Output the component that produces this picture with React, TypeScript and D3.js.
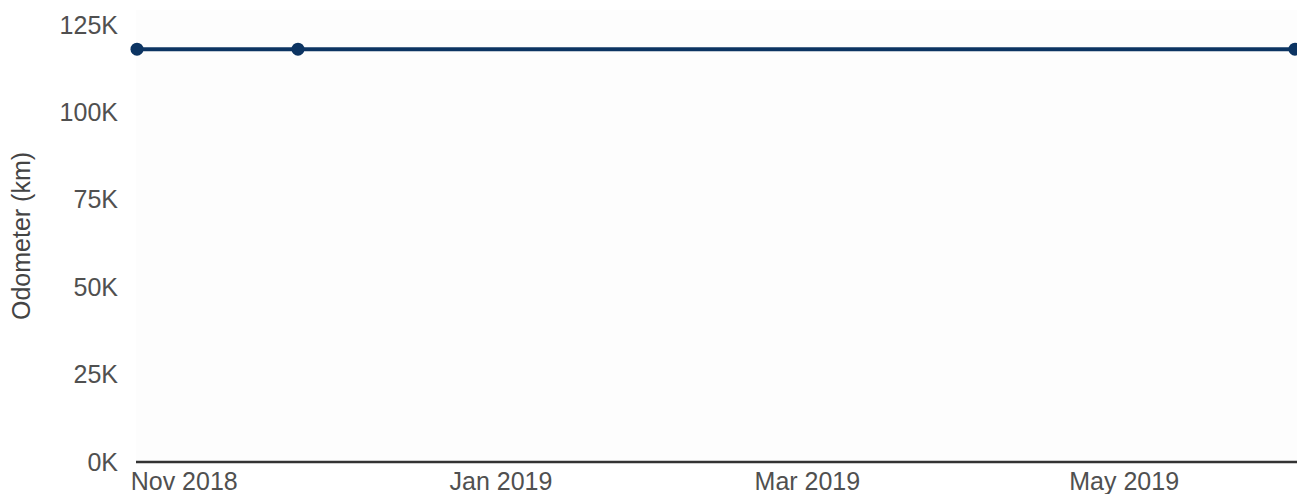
import * as React from 'react';
import { useEffect, useRef } from 'react';
import { scaleTime, scaleLinear, select, line, axisLeft, axisBottom } from 'd3';

const readingDates = ['2018-10-23', '2018-11-23', '2019-06-03'];
const odometerKm = [118100, 118100, 118100];
const yTickValues = [0, 25000, 50000, 75000, 100000, 125000];
const xTickDates = ['2018-11-01', '2019-01-01', '2019-03-01', '2019-05-01'];
const xTickLabels = ['Nov 2018', 'Jan 2019', 'Mar 2019', 'May 2019'];
const yMax = 129300;

const W = 1297;
const H = 494;
const margin = { top: 10, right: 2, bottom: 32, left: 137 };
const font = 'Liberation Sans, Arial, sans-serif';

const parse = (s: string) => {
    const [y, m, d] = s.split('-').map(Number);
    return new Date(y, m - 1, d);
};

export default function App() {
    const ref = useRef<SVGSVGElement>(null);

    useEffect(() => {
        const svg = select(ref.current);
        svg.selectAll('*').remove();

        const data = readingDates.map((d, i) => ({ date: parse(d), km: odometerKm[i] }));
        const x = scaleTime()
            .domain([data[0].date, data[data.length - 1].date])
            .range([margin.left, W - margin.right]);
        const y = scaleLinear().domain([0, yMax]).range([H - margin.bottom, margin.top]);

        svg.append('rect')
            .attr('x', margin.left - 1)
            .attr('y', margin.top)
            .attr('width', W - margin.left + 1)
            .attr('height', H - margin.bottom - margin.top)
            .attr('fill', '#fdfdfd');

        const yAxis = svg.append('g')
            .attr('transform', `translate(${margin.left - 1},0)`)
            .call(axisLeft(y).tickValues(yTickValues).tickSize(0).tickPadding(18)
                .tickFormat((v: any) => `${v / 1000}K`));
        yAxis.select('.domain').remove();
        yAxis.selectAll('text')
            .attr('font-family', font)
            .attr('font-size', 25)
            .attr('fill', '#505050');

        const tickDates = xTickDates.map(parse);
        const xAxis = svg.append('g')
            .attr('transform', `translate(0,${H - margin.bottom})`)
            .call(axisBottom(x).tickValues(tickDates).tickSize(0).tickPadding(10)
                .tickFormat((_d: any, i: number) => xTickLabels[i]));
        xAxis.select('.domain')
            .attr('d', `M${margin.left - 1},0H${W}`)
            .attr('stroke', '#333')
            .attr('stroke-width', 2.5);
        xAxis.selectAll('text')
            .attr('font-family', font)
            .attr('font-size', 25)
            .attr('fill', '#505050');

        svg.append('text')
            .attr('transform', `translate(30,${(margin.top + H - margin.bottom) / 2}) rotate(-90)`)
            .attr('text-anchor', 'middle')
            .attr('font-family', font)
            .attr('font-size', 25)
            .attr('fill', '#444')
            .text('Odometer (km)');

        const path = line<{ date: Date; km: number }>()
            .x(d => x(d.date))
            .y(d => y(d.km));

        svg.append('path')
            .datum(data)
            .attr('fill', 'none')
            .attr('stroke', '#0c3462')
            .attr('stroke-width', 4)
            .attr('d', path);

        svg.selectAll('circle.pt')
            .data(data)
            .enter()
            .append('circle')
            .attr('class', 'pt')
            .attr('cx', d => x(d.date))
            .attr('cy', d => y(d.km))
            .attr('r', 6.5)
            .attr('fill', '#0c3462');
    }, []);

    return (
        <svg ref={ref} width={W} height={H} style={{ position: 'absolute', left: 0, top: 0 }} />
    );
}
